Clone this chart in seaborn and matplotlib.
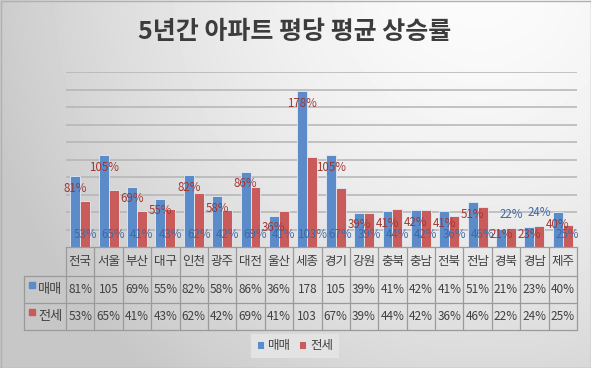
import numpy as np
import pandas as pd
import matplotlib
matplotlib.use("Agg")
import matplotlib.pyplot as plt
import matplotlib.transforms as mtransforms
import seaborn as sns

regions = ["전국", "서울", "부산", "대구", "인천", "광주", "대전", "울산", "세종",
           "경기", "강원", "충북", "충남", "전북", "전남", "경북", "경남", "제주"]
sale = [81, 105, 69, 55, 82, 58, 86, 36, 178, 105, 39, 41, 42, 41, 51, 21, 23, 40]
jeonse = [53, 65, 41, 43, 62, 42, 69, 41, 103, 67, 39, 44, 42, 36, 46, 22, 24, 25]
series = ["매매", "전세"]

BLUE = "#5b8bc8"
RED = "#c95c5a"
BLUE_TXT = "#3d6aa6"
RED_TXT = "#a3352f"
GRID = "#b4b4b4"
TXT = "#404040"

df = pd.DataFrame({
    "지역": regions * 2,
    "구분": [series[0]] * len(regions) + [series[1]] * len(regions),
    "상승률": sale + jeonse,
})

sns.set_theme(style="white")
plt.rcParams["font.family"] = ["Noto Sans CJK KR", "DejaVu Sans"]

W, H = 591, 368
fig = plt.figure(figsize=(W / 100, H / 100), dpi=100)

# gradient background like the Excel chart area
bg = fig.add_axes([0, 0, 1, 1], zorder=-5)
yy, xx = np.mgrid[0:H, 0:W]
t = (np.hypot(xx - 480, yy + 20) / 520) ** 1.6
shade = np.clip(0.985 - 0.21 * t, 0.78, 0.985)
bg.imshow(shade, cmap="gray", vmin=0, vmax=1, extent=(0, W, H, 0), aspect="auto")
bg.set_xlim(0, W)
bg.set_ylim(H, 0)
bg.axis("off")
bg.add_patch(plt.Rectangle((0.5, 0.5), W - 1, H - 1, fill=False, ec="#b0b0b0", lw=1))

# plot area
left, right, top, base = 66, 577, 72, 247
ax = fig.add_axes([left / W, 1 - base / H, (right - left) / W, (base - top) / H])
ax.set_facecolor("none")
sns.barplot(data=df, x="지역", y="상승률", hue="구분", hue_order=series,
            palette=[BLUE, RED], width=0.7, gap=0, edgecolor="#e4ebf5",
            linewidth=0.6, saturation=1, ax=ax, zorder=3)
ax.set_xlim(-0.5, len(regions) - 0.5)
ax.set_ylim(0, 200)
ax.set_yticks(range(20, 201, 20))
ax.set_yticklabels([])
ax.set_xticklabels([])
ax.tick_params(length=0)
ax.set_xlabel("")
ax.set_ylabel("")
ax.yaxis.grid(True, color=GRID, lw=1.1)
ax.set_axisbelow(True)
for s in ax.spines.values():
    s.set_visible(False)

# data labels: 매매 inside end, 전세 inside base (moved above when they would collide)
ppu = ax.get_position().height * H / 200
for i in range(len(regions)):
    m_px = sale[i] * ppu - 12
    clamped = m_px < 13
    m_px = max(m_px, 13)
    ax.text(i - 0.175, m_px / ppu, f"{sale[i]}%", color=RED_TXT, fontsize=8.3,
            ha="center", va="center", zorder=5)
    j_px = jeonse[i] * ppu + 13 if clamped else 13
    ax.text(i + 0.175, j_px / ppu, f"{jeonse[i]}%", color=BLUE_TXT, fontsize=8.3,
            ha="center", va="center", zorder=5)

# legend at the bottom
handles, labels = ax.get_legend_handles_labels()
ax.legend(handles, labels, loc="center", bbox_to_anchor=(295 / W, 1 - 346 / H),
          bbox_transform=fig.transFigure, ncol=2, frameon=True, facecolor="#e3e3e3",
          edgecolor="none", fancybox=False, framealpha=1, fontsize=9,
          handlelength=0.55, handleheight=0.55, handletextpad=0.3,
          columnspacing=0.7, borderpad=0.45, labelcolor=TXT)

# data table under the axis
ov = fig.add_axes([0, 0, 1, 1], zorder=4)
ov.set_xlim(0, W)
ov.set_ylim(H, 0)
ov.axis("off")
tr = mtransforms.blended_transform_factory(ax.transData, ov.transData)
r0, r1, r2, r3 = 247, 276, 303, 330
line_kw = dict(color="#9a9a9a", lw=0.9)
ov.plot([left, right], [r0, r0], **line_kw)
for y in (r1, r2, r3):
    ov.plot([24, right], [y, y], **line_kw)
ov.plot([24, 24], [r1, r3], **line_kw)
for k in range(len(regions) + 1):
    ov.plot([k - 0.5, k - 0.5], [r0, r3], transform=tr, **line_kw)

for i, name in enumerate(regions):
    ov.text(i, (r0 + r1) / 2, name, transform=tr, ha="center", va="center",
            fontsize=9, color=TXT)
    for row, vals in ((r1, sale), (r2, jeonse)):
        v = vals[i]
        ov.text(i, row + 13.5, f"{v}%" if v < 100 else str(v), transform=tr,
                ha="center", va="center", fontsize=8.5, color=TXT)

for row, name, col in ((r1, series[0], BLUE), (r2, series[1], RED)):
    ov.plot([32], [row + 8.5], marker="s", ms=4.2, color=col, mec=col)
    ov.text(38, row + 13.5, name, ha="left", va="center", fontsize=9.5, color=TXT)

fig.text(295 / W, 1 - 32 / H, "5년간 아파트 평당 평균 상승률", ha="center", va="center",
         fontsize=18, fontweight="bold", color="#3c3c3c")

fig.savefig("out.png", dpi=100)
plt.close(fig)
